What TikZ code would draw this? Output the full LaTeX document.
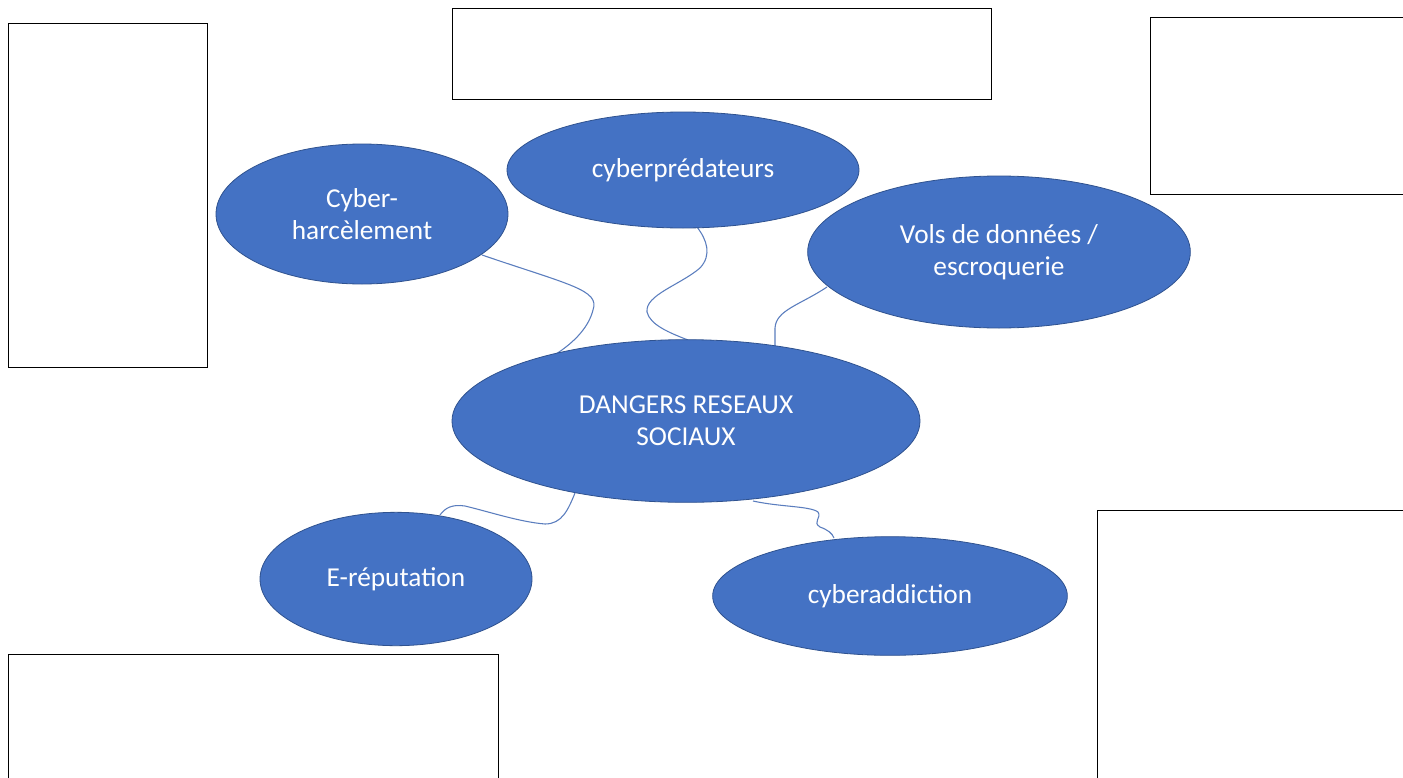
\documentclass[tikz,border=0pt]{standalone}
\usepackage{fontspec}
\setmainfont{Carlito}
\usetikzlibrary{shapes.geometric}
\definecolor{bubble}{HTML}{4472C4}
\definecolor{bubbleline}{HTML}{2F528F}
\definecolor{wire}{HTML}{5A7DBE}
\tikzset{
  bub/.style={ellipse, fill=bubble, draw=bubbleline, line width=0.6pt, inner sep=0pt,
    text=white, align=center, font=\fontsize{20.5}{24}\selectfont},
  frame/.style={draw=black, line width=0.75pt, fill=none},
  wirestyle/.style={draw=wire, line width=0.8pt}
}
\begin{document}
\begin{tikzpicture}[x=0.75pt,y=-0.75pt]
\useasboundingbox (0,0) rectangle (1403,778);
\clip (0,0) rectangle (1403,778);
\fill[white] (0,0) rectangle (1403,778);
% frames
\draw[frame] (8,23) rectangle (207,367);
\draw[frame] (452,8) rectangle (991,99);
\draw[frame] (1150,17) rectangle (1420,194);
\draw[frame] (1097,510) rectangle (1420,800);
\draw[frame] (8,654) rectangle (498,800);
% connector end points
\coordinate (h1) at (482,255);
\coordinate (d1) at (556,354);
\coordinate (p1) at (697,227);
\coordinate (d2) at (688,340);
\coordinate (v1) at (827,287);
\coordinate (d3) at (775,347);
\coordinate (d4) at (575,493);
\coordinate (e1) at (440,515);
\coordinate (d5) at (753,501);
\coordinate (a1) at (834,538);
% connectors
\draw[wirestyle] (h1) .. controls (570,285) and (600,290) .. (593,310)
  .. controls (588,330) and (570,345) .. (d1);
\draw[wirestyle] (p1) .. controls (707,240) and (712,255) .. (700,268)
  .. controls (680,285) and (645,295) .. (647,312)
  .. controls (650,325) and (670,333) .. (d2);
\draw[wirestyle] (v1) .. controls (800,305) and (776,310) .. (775,328)
  .. controls (775,335) and (775,340) .. (d3);
\draw[wirestyle] (d4) .. controls (568,510) and (562,524) .. (545,524)
  .. controls (520,522) and (490,512) .. (465,506)
  .. controls (452,504) and (445,508) .. (e1);
\draw[wirestyle] (d5) .. controls (780,507) and (810,506) .. (818,512)
  .. controls (822,518) and (812,522) .. (820,527)
  .. controls (828,530) and (832,533) .. (a1);
% bubbles
\node[bub, minimum width=219pt, minimum height=105pt] (harc) at (362,214) {Cyber-\\harcèlement};
\node[bub, minimum width=264pt, minimum height=87pt] (pred) at (683,170) {cyberprédateurs};
\node[bub, minimum width=287pt, minimum height=114pt] (vols) at (999,252) {Vols de données /\\escroquerie};
\node[bub, minimum width=351pt, minimum height=122pt] (dang) at (686,421) {DANGERS RESEAUX\\SOCIAUX};
\node[bub, minimum width=204pt, minimum height=100pt] (erep) at (396,579) {E-réputation};
\node[bub, minimum width=266pt, minimum height=89pt] (addi) at (890,596) {cyberaddiction};
\end{tikzpicture}
\end{document}
